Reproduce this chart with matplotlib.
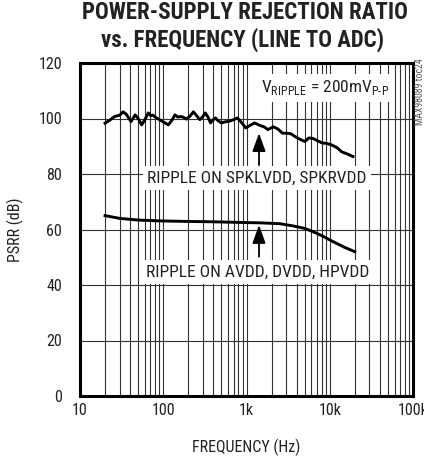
import numpy as np
import matplotlib
matplotlib.use("Agg")
import matplotlib.pyplot as plt
from matplotlib.ticker import FixedLocator, LogLocator, NullFormatter

plt.rcParams['font.family'] = ['Roboto Condensed', 'DejaVu Sans']
plt.rcParams['mathtext.fontset'] = 'custom'
plt.rcParams['mathtext.rm'] = 'Roboto Condensed'

# top trace: ripple on SPKLVDD, SPKRVDD
freq_spk = [20, 23, 26, 30, 33, 36, 41, 46, 50, 55,
            60, 66, 71, 75, 83, 91, 100, 115, 128, 138,
            150, 162, 173, 190, 209, 230, 252, 275, 300, 320,
            345, 370, 396, 425, 455, 500, 552, 620, 689, 780,
            875, 980, 1100, 1250, 1450, 1620, 1810, 2100, 2390, 2700,
            3040, 3400, 3830, 4400, 5040, 5600, 6300, 7100, 8080, 9200,
            10500, 12200, 13900, 16000, 19000]
psrr_spk = [98.3, 99.5, 100.7, 101.2, 102.4, 101.5, 98.9, 101.3, 100.0, 97.7,
            99.5, 102.0, 101.0, 101.2, 100.2, 99.5, 98.8, 97.7, 99.5, 101.3,
            100.5, 100.7, 100.5, 99.8, 100.8, 102.4, 101.0, 99.6, 100.8, 102.0,
            100.5, 98.4, 99.5, 100.2, 99.2, 98.4, 98.8, 99.0, 99.5, 100.2,
            98.5, 96.6, 97.5, 98.4, 97.5, 97.0, 96.0, 97.0, 96.2, 94.7,
            94.7, 94.5, 93.5, 92.5, 91.7, 93.0, 92.8, 92.0, 91.2, 91.0,
            90.5, 89.5, 88.0, 87.3, 86.3]

# bottom trace: ripple on AVDD, DVDD, HPVDD
freq_av = [20, 30, 50, 91, 200, 363, 700, 1445, 2500, 3612, 5000, 6300, 8000, 11000, 15000, 20000]
psrr_av = [65.0, 64.0, 63.4, 63.1, 62.9, 62.8, 62.6, 62.4, 62.1, 61.3, 60.4, 59.2, 57.8, 55.6, 53.6, 52.0]

yticks = [0, 20, 40, 60, 80, 100, 120]
xticks = [10, 100, 1000, 10000, 100000]
xticklabels = ['10', '100', '1k', '10k', '100k']

fig = plt.figure(figsize=(4.24, 4.58), dpi=100)
ax = fig.add_axes([80/424, 62/458, 333/424, 333/458])

ax.semilogx(freq_spk, psrr_spk, color='black', lw=2.1, zorder=4)
ax.semilogx(freq_av, psrr_av, color='black', lw=2.1, zorder=4)

ax.set_xlim(10, 100000)
ax.set_ylim(0, 120)
ax.xaxis.set_major_locator(FixedLocator(xticks))
ax.set_xticklabels(xticklabels)
ax.xaxis.set_minor_locator(LogLocator(base=10, subs=np.arange(2, 10)))
ax.xaxis.set_minor_formatter(NullFormatter())
ax.set_yticks(yticks)
ax.grid(True, which='both', axis='x', color='#333333', lw=0.8, zorder=1)
ax.grid(True, which='major', axis='y', color='#333333', lw=0.8, zorder=1)
ax.tick_params(which='both', length=0, labelsize=11.5, colors='#222222')
ax.tick_params(axis='x', pad=5)
ax.tick_params(axis='y', pad=13)
for s in ax.spines.values():
    s.set_linewidth(2.2)
    s.set_zorder(5)

ax.set_xlabel('FREQUENCY (Hz)', fontsize=11.5, color='#222222', labelpad=15)
ax.set_ylabel('PSRR (dB)', fontsize=11.5, color='#222222', labelpad=10)

fig.text(0.578, 0.973, 'POWER-SUPPLY REJECTION RATIO', ha='center', va='center',
         fontsize=16.5, fontweight='black', color='#222222')
fig.text(0.572, 0.914, 'vs. FREQUENCY (LINE TO ADC)', ha='center', va='center',
         fontsize=16.5, fontweight='black', color='#222222')

box = dict(facecolor='white', edgecolor='none', pad=3)
ax.text(8770, 111, r'V$_{\mathregular{RIPPLE}}$ = 200mV$_{\mathregular{P\text{-}P}}$',
        ha='center', va='center', fontsize=12.5, color='#222222', bbox=box, zorder=6)
ax.text(1325, 78.6, 'RIPPLE ON SPKLVDD, SPKRVDD', ha='center', va='center',
        fontsize=12.5, color='#222222', bbox=box, zorder=6)
ax.text(1380, 44.7, 'RIPPLE ON AVDD, DVDD, HPVDD', ha='center', va='center',
        fontsize=12.5, color='#222222', bbox=box, zorder=6)

arrow = dict(arrowstyle='-|>,head_length=0.55,head_width=0.2', color='black',
             lw=1.3, mutation_scale=20, shrinkA=0, shrinkB=0)
ax.annotate('', xy=(1413, 94.7), xytext=(1413, 83.2), arrowprops=arrow, zorder=6)
ax.annotate('', xy=(1413, 61.6), xytext=(1413, 50.2), arrowprops=arrow, zorder=6)

fig.text(0.991, 0.80, 'MAX98089 toc24', rotation=90, ha='center', va='center',
         fontsize=7, color='#555555')

fig.savefig('out.png', dpi=100)
